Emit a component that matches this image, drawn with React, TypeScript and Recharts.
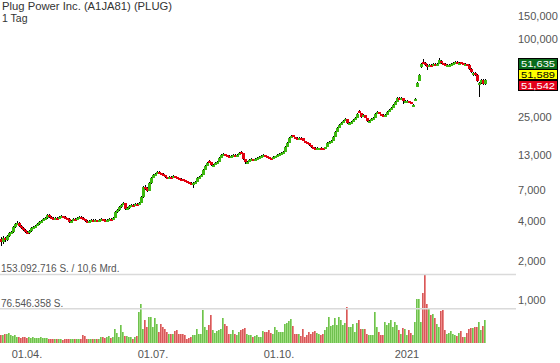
import { Bar, ComposedChart, ReferenceLine, XAxis, YAxis } from "recharts";

const TITLE = "Plug Power Inc. (A1JA81) (PLUG)";
const PERIOD = "1 Tag";

// Tageskerzen (EUR), 243 Handelstage
const OPEN = [
  2.95, 2.78, 2.99, 2.88, 3.09, 3.26, 3.32, 3.63, 3.82, 3.89,
  3.69, 3.56, 3.44, 3.32, 3.26, 3.38, 3.56, 3.66, 3.69, 3.82,
  3.96, 4.03, 4.18, 4.25, 4.48, 4.33, 4.27, 4.25, 4.28, 4.25,
  4.33, 4.4, 4.33, 4.25, 4.18, 3.96, 4.03, 4.2, 4.18, 4.25,
  4.33, 4.25, 4.18, 4.05, 4.03, 4.03, 4.12, 4.1, 4.1, 4.03,
  4.1, 4.18, 4.12, 4.1, 4.1, 4.2, 4.18, 4.25, 4.72, 4.89,
  5.16, 5.35, 5.54, 4.98, 5.07, 5.25, 5.37, 5.35, 5.46, 5.44,
  5.54, 6.16, 7.34, 7.21, 6.84, 7.88, 8.61, 9.07, 9.24, 9.57,
  9.4, 9.3, 9.07, 8.76, 8.61, 8.78, 8.76, 8.92, 8.76, 8.61,
  8.48, 8.46, 8.31, 8.16, 8.02, 7.9, 7.88, 7.88, 8.02, 8.61,
  8.76, 9.07, 9.91, 10.63, 11.7, 11.41, 10.82, 10.82, 11.21, 11.41,
  12.25, 12.92, 13.15, 12.92, 12.72, 12.69, 12.69, 12.95, 12.92, 12.92,
  13.6, 13.38, 12.04, 11.41, 11.41, 11.82, 12.04, 11.82, 12.04, 12.25,
  12.47, 12.69, 12.92, 12.69, 12.47, 12.27, 12.25, 12.47, 12.69, 12.92,
  13.15, 13.38, 13.62, 14.88, 15.97, 17.44, 18.3, 17.75, 17.46, 17.44,
  17.48, 17.44, 16.54, 16.25, 15.97, 15.41, 14.88, 14.64, 14.62, 14.6,
  14.64, 14.62, 14.36, 14.88, 15.97, 16.25, 16.54, 17.75, 19.39, 20.81,
  21.94, 22.73, 23.55, 24.4, 22.73, 22.73, 23.14, 23.97, 24.83, 28.1,
  27.12, 25.27, 26.18, 24.83, 23.55, 23.55, 24.4, 24.83, 26.65, 27.61,
  26.65, 26.22, 26.18, 26.18, 27.61, 28.6, 29.63, 31.24, 32.94, 35.4,
  35.35, 35.35, 33.52, 33.52, 33.52, 32.94, 30.69, 33.52, 42.93, 47.72,
  61.1, 66.74, 65.57, 63.3, 61.1, 63.3, 62.19, 64.42, 63.3, 64.42,
  67.93, 65.57, 64.42, 63.3, 63.3, 63.3, 64.42, 65.57, 66.74, 65.57,
  66.2, 65.57, 64.42, 64.42, 63.3, 58.98, 53.06, 54.96, 53.06, 45.26,
  46.07, 48.57, 45.26,
];
const HIGH = [
  3.02, 3.1, 3.06, 3.17, 3.34, 3.4, 3.72, 3.92, 4.02, 3.95,
  3.74, 3.6, 3.48, 3.38, 3.44, 3.62, 3.7, 3.76, 3.9, 4.04,
  4.12, 4.26, 4.34, 4.56, 4.52, 4.38, 4.33, 4.34, 4.33, 4.4,
  4.48, 4.44, 4.37, 4.28, 4.22, 4.1, 4.24, 4.26, 4.32, 4.4,
  4.37, 4.29, 4.21, 4.1, 4.09, 4.15, 4.17, 4.16, 4.13, 4.15,
  4.23, 4.21, 4.16, 4.15, 4.23, 4.25, 4.31, 4.8, 4.98, 5.26,
  5.45, 5.68, 5.58, 5.15, 5.32, 5.42, 5.42, 5.52, 5.52, 5.62,
  6.3, 7.52, 7.6, 7.3, 8.02, 8.75, 9.22, 9.4, 9.75, 9.7,
  9.48, 9.35, 9.12, 8.82, 8.85, 8.86, 9.02, 8.96, 8.8, 8.66,
  8.55, 8.5, 8.35, 8.2, 8.06, 7.96, 7.95, 8.1, 8.72, 8.86,
  9.18, 10.05, 10.8, 11.4, 11.85, 11.45, 10.95, 11.35, 11.55, 12.4,
  13.1, 13.4, 13.25, 13.0, 12.85, 12.85, 13.05, 13.05, 13.08, 13.55,
  13.75, 13.45, 12.1, 11.55, 11.95, 12.18, 12.1, 12.15, 12.38, 12.6,
  12.82, 13.05, 13.0, 12.75, 12.52, 12.35, 12.58, 12.8, 13.05, 13.28,
  13.52, 13.78, 15.05, 16.15, 17.65, 18.3, 18.4, 17.82, 17.62, 17.6,
  17.62, 17.5, 16.62, 16.32, 16.02, 15.48, 14.95, 14.75, 14.76, 14.74,
  14.76, 14.68, 15.0, 16.12, 16.4, 16.7, 17.92, 19.6, 21.05, 22.2,
  23.0, 23.85, 24.7, 24.5, 22.95, 23.35, 24.2, 25.1, 26.95, 28.5,
  27.25, 26.45, 26.3, 24.95, 23.8, 24.65, 25.1, 26.95, 27.95, 27.75,
  26.75, 26.45, 26.45, 27.9, 28.95, 29.95, 31.6, 33.35, 35.8, 35.9,
  35.85, 35.5, 33.95, 33.95, 33.7, 33.1, 31.8, 35.1, 46.6, 53.8,
  65.2, 70.4, 66.2, 64.0, 64.0, 63.9, 65.0, 65.0, 65.2, 71.6,
  68.5, 66.0, 65.0, 64.0, 64.0, 65.0, 66.3, 67.5, 67.4, 66.3,
  66.8, 66.0, 65.1, 64.9, 63.8, 59.5, 55.6, 55.5, 53.6, 47.0,
  49.5, 49.2, 49.6,
];
const LOW = [
  2.58, 2.7, 2.8, 2.84, 3.03, 3.2, 3.28, 3.58, 3.76, 3.62,
  3.48, 3.38, 3.25, 3.18, 3.22, 3.34, 3.52, 3.6, 3.66, 3.78,
  3.92, 4.0, 4.12, 4.2, 4.26, 4.18, 4.18, 4.2, 4.19, 4.22,
  4.3, 4.27, 4.18, 4.1, 3.88, 3.92, 4.0, 4.12, 4.14, 4.22,
  4.19, 4.12, 3.97, 3.97, 3.97, 4.0, 4.04, 4.05, 3.98, 4.0,
  4.06, 4.05, 4.05, 4.04, 4.07, 4.12, 4.14, 4.22, 4.66, 4.85,
  5.1, 5.3, 4.9, 4.92, 5.02, 5.2, 5.28, 5.3, 5.38, 5.4,
  5.5, 6.1, 6.95, 6.7, 6.8, 7.8, 8.55, 9.0, 9.18, 9.3,
  9.15, 8.98, 8.66, 8.52, 8.56, 8.66, 8.7, 8.68, 8.52, 8.38,
  8.36, 8.22, 8.08, 7.92, 7.78, 7.8, 7.25, 7.8, 7.98, 8.55,
  8.7, 9.0, 9.85, 10.55, 11.3, 10.6, 10.6, 10.75, 11.15, 11.35,
  12.15, 12.85, 12.8, 12.55, 12.55, 12.55, 12.6, 12.8, 12.8, 12.88,
  13.25, 11.9, 11.05, 11.25, 11.35, 11.75, 11.7, 11.75, 11.98, 12.2,
  12.4, 12.62, 12.6, 12.38, 12.15, 12.15, 12.2, 12.42, 12.62, 12.86,
  13.1, 13.3, 13.55, 14.8, 15.9, 17.35, 17.6, 17.3, 17.3, 17.28,
  17.3, 16.4, 16.1, 15.8, 15.25, 14.72, 14.48, 14.48, 14.5, 14.48,
  14.48, 14.2, 14.3, 14.8, 15.9, 16.18, 16.48, 17.7, 19.3, 20.7,
  21.85, 22.65, 23.45, 22.5, 22.45, 22.65, 23.05, 23.9, 24.75, 26.9,
  25.0, 25.1, 24.6, 23.25, 23.2, 23.45, 24.3, 24.75, 26.55, 26.4,
  25.95, 25.95, 25.95, 26.1, 27.5, 28.5, 29.55, 31.15, 32.85, 34.9,
  34.9, 31.6, 33.1, 33.05, 32.6, 31.9, 30.2, 33.3, 42.5, 47.3,
  60.3, 64.9, 62.6, 57.9, 60.5, 61.5, 61.7, 62.6, 62.8, 64.0,
  64.9, 63.7, 62.6, 62.6, 62.5, 62.8, 64.0, 65.0, 65.0, 64.9,
  64.9, 63.8, 63.7, 62.6, 58.3, 55.2, 52.3, 52.4, 47.0, 35.98,
  45.5, 44.5, 44.8,
];
const CLOSE = [
  2.78, 2.99, 2.88, 3.09, 3.26, 3.32, 3.63, 3.82, 3.89, 3.69,
  3.56, 3.44, 3.32, 3.26, 3.38, 3.56, 3.63, 3.69, 3.82, 3.96,
  4.03, 4.18, 4.25, 4.48, 4.33, 4.25, 4.25, 4.27, 4.25, 4.33,
  4.4, 4.33, 4.25, 4.18, 3.96, 4.03, 4.18, 4.18, 4.25, 4.33,
  4.25, 4.18, 4.03, 4.03, 4.03, 4.1, 4.1, 4.1, 4.03, 4.1,
  4.18, 4.1, 4.1, 4.1, 4.18, 4.18, 4.25, 4.72, 4.89, 5.16,
  5.35, 5.54, 4.98, 5.07, 5.25, 5.35, 5.35, 5.44, 5.44, 5.54,
  6.16, 7.34, 7.21, 6.84, 7.88, 8.61, 9.07, 9.24, 9.57, 9.4,
  9.24, 9.07, 8.76, 8.61, 8.76, 8.76, 8.92, 8.76, 8.61, 8.46,
  8.46, 8.31, 8.16, 8.02, 7.88, 7.88, 7.88, 8.02, 8.61, 8.76,
  9.07, 9.91, 10.63, 11.21, 11.41, 10.82, 10.82, 11.21, 11.41, 12.25,
  12.92, 13.15, 12.92, 12.69, 12.69, 12.69, 12.92, 12.92, 12.92, 13.38,
  13.38, 12.04, 11.41, 11.41, 11.82, 12.04, 11.82, 12.04, 12.25, 12.47,
  12.69, 12.92, 12.69, 12.47, 12.25, 12.25, 12.47, 12.69, 12.92, 13.15,
  13.38, 13.62, 14.88, 15.97, 17.44, 18.07, 17.75, 17.44, 17.44, 17.44,
  17.44, 16.54, 16.25, 15.97, 15.41, 14.88, 14.62, 14.62, 14.62, 14.62,
  14.62, 14.36, 14.88, 15.97, 16.25, 16.54, 17.75, 19.39, 20.81, 21.94,
  22.73, 23.55, 24.4, 22.73, 22.73, 23.14, 23.97, 24.83, 26.65, 27.12,
  25.27, 26.18, 24.83, 23.55, 23.55, 24.4, 24.83, 26.65, 27.61, 26.65,
  26.18, 26.18, 26.18, 27.61, 28.6, 29.63, 31.24, 32.94, 35.35, 35.35,
  35.35, 33.52, 33.52, 33.52, 32.94, 32.36, 31.24, 34.73, 46.07, 53.06,
  64.42, 65.57, 63.3, 61.1, 63.3, 62.19, 64.42, 63.3, 64.42, 69.14,
  65.57, 64.42, 63.3, 63.3, 63.3, 64.42, 65.57, 66.74, 65.57, 65.57,
  65.57, 64.42, 64.42, 63.3, 58.98, 55.94, 54.96, 53.06, 47.72, 46.07,
  48.57, 45.26, 48.57,
];
// Umsatz in Mio. Stück
const VOLUME = [
  18, 17, 20, 19, 22, 17, 15, 17, 14, 13,
  12, 14, 13, 12, 13, 12, 14, 12, 11, 12,
  13, 12, 11, 12, 9, 10, 8, 9, 10, 8,
  9, 7, 9, 10, 8, 9, 8, 10, 9, 8,
  10, 17, 16, 9, 8, 9, 10, 8, 9, 10,
  13, 14, 12, 13, 15, 12, 14, 32, 22, 13,
  40, 25, 15, 15, 13, 13, 10, 13, 15, 69,
  87, 32, 51, 36, 57, 57, 36, 56, 43, 25,
  43, 35, 32, 25, 20, 19, 20, 26, 28, 20,
  21, 21, 17, 10, 12, 13, 17, 17, 32, 20,
  19, 73, 36, 30, 40, 63, 28, 22, 26, 30,
  32, 55, 43, 37, 20, 20, 28, 19, 17, 25,
  28, 32, 34, 21, 18, 17, 13, 15, 17, 14,
  13, 27, 25, 24, 30, 22, 19, 36, 30, 25,
  25, 24, 42, 44, 50, 53, 37, 19, 21, 20,
  15, 32, 14, 18, 24, 21, 25, 27, 22, 19,
  17, 19, 28, 35, 57, 37, 40, 56, 40, 58,
  52, 40, 45, 80, 35, 36, 43, 25, 45, 51,
  32, 31, 32, 20, 17, 17, 17, 69, 36, 25,
  17, 17, 48, 40, 44, 52, 36, 48, 40, 30,
  19, 34, 32, 17, 28, 22, 17, 46, 98, 99,
  46, 111, 153.092716, 88, 79, 62, 64, 55, 43, 36,
  72, 73, 28, 19, 22, 27, 21, 18, 15, 22,
  27, 13, 13, 22, 32, 34, 34, 35, 36, 47,
  30, 37, 51,
];

const TICK_INDEX = [13, 76, 139, 203];
const TICK_LABEL = ["01.04.", "01.07.", "01.10.", "2021"];
const PRICE_TICKS = [1, 2, 4, 7, 13, 25, 100, 150];

const VOL_MAX = 153092716;
const VOL_HALF = 76546358;
const TURNOVER = "10,6 Mrd.";
const QUOTE_VALUES = [51.635, 51.589, 51.542];

const FONT = "'Liberation Sans', Arial, sans-serif";
const GREEN = "#3cb80f";
const RED = "#e2000f";
const QUOTE_STYLE = [
  { bg: "#0a6b1a", fg: "#ffffff", y: 58.5, h: 11, base: 67.4 },
  { bg: "#ffff00", fg: "#000000", y: 69.5, h: 10, base: 78.3 },
  { bg: "#e2001a", fg: "#ffffff", y: 80.5, h: 10, base: 89.2 },
];

const data = CLOSE.map((close, i) => ({
  i,
  open: OPEN[i],
  high: HIGH[i],
  low: LOW[i],
  close,
  range: [LOW[i], HIGH[i]],
  volume: VOLUME[i],
}));

const dots = (n: number) => String(n).replace(/\B(?=(\d{3})+(?!\d))/g, ".");
const price = (v: number) => v.toFixed(3).replace(".", ",");

const Candle = (props: any) => {
  const { x, y, width, height, payload } = props;
  if (!payload) return null;
  const top = Math.min(y, y + height);
  const bot = Math.max(y, y + height);
  const lh = Math.log(payload.high);
  const ll = Math.log(payload.low);
  const span = lh - ll || 1;
  const at = (v: number) => top + ((lh - Math.log(v)) / span) * (bot - top);
  const cx = Math.round(x + width / 2);
  const up = payload.close >= payload.open;
  const bTop = Math.round(at(Math.max(payload.open, payload.close)));
  let bBot = Math.round(at(Math.min(payload.open, payload.close)));
  if (bBot - bTop < 2) bBot = bTop + 2;
  const wTop = Math.round(top);
  const wBot = Math.max(wTop + 1, Math.round(bot));
  return (
    <g shapeRendering="crispEdges">
      <rect x={cx} y={wTop} width={1} height={wBot - wTop} fill="#000" />
      <rect x={cx - 1} y={bTop} width={3} height={bBot - bTop} fill={up ? GREEN : RED} />
    </g>
  );
};

const VolBar = (props: any) => {
  const { x, y, width, height, payload } = props;
  if (!payload) return null;
  const up = payload.close >= payload.open;
  const cx = Math.round(x + width / 2);
  const t = Math.round(y);
  const h = Math.max(1, Math.round(y + height) - t);
  return (
    <g shapeRendering="crispEdges">
      <rect x={cx - 1} y={t} width={2} height={h} fill={up ? "#9edd80" : "#ef8c8c"} />
      <rect x={cx - 1} y={t} width={1} height={h} fill={up ? "#6fc04e" : "#d45a5a"} />
    </g>
  );
};

const GridLine = (props: any) => (
  <line x1={0} x2={516} y1={props.y1} y2={props.y1} stroke="#dadada" strokeWidth={1.5} />
);

const App = () => {
  return (
    <div style={{ position: "absolute", left: 0, top: 0, width: 560, height: 363, fontFamily: FONT }}>
      <ComposedChart width={560} height={363} data={data} margin={{ top: 0, right: 0, bottom: 0, left: 0 }}>
        <XAxis
          dataKey="i"
          ticks={TICK_INDEX}
          interval={0}
          tickFormatter={(v) => TICK_LABEL[TICK_INDEX.indexOf(v)]}
          padding={{ left: 0, right: 24 }}
          height={20}
          axisLine={false}
          tickLine={false}
          tickSize={5}
          tickMargin={2}
          tick={{ fill: "#555", fontSize: 11, fontFamily: FONT }}
        />
        <XAxis xAxisId="vol" dataKey="i" hide padding={{ left: 0, right: 24 }} />
        <YAxis
          yAxisId="price"
          orientation="right"
          scale="log"
          domain={[0.4682, 199]}
          allowDataOverflow
          ticks={PRICE_TICKS}
          interval={0}
          tickFormatter={price}
          width={50}
          axisLine={false}
          tickLine={false}
          tickSize={6}
          tickMargin={2}
          tick={{ fill: "#555", fontSize: 11, fontFamily: FONT }}
        />
        <YAxis yAxisId="vol" hide domain={[0, 766]} allowDataOverflow />
        <ReferenceLine yAxisId="vol" y={VOL_MAX / 1e6} shape={GridLine} ifOverflow="visible" />
        <ReferenceLine yAxisId="vol" y={VOL_HALF / 1e6} shape={GridLine} ifOverflow="visible" />
        <Bar xAxisId="vol" yAxisId="vol" dataKey="volume" shape={VolBar} isAnimationActive={false} />
        <Bar yAxisId="price" dataKey="range" shape={Candle} isAnimationActive={false} />
      </ComposedChart>
      <svg
        width={560}
        height={363}
        style={{ position: "absolute", left: 0, top: 0, pointerEvents: "none" }}
        fontFamily={FONT}
      >
        <text x={2} y={10} fontSize={10.5} fill="#333" textLength={170} lengthAdjust="spacingAndGlyphs">
          {TITLE}
        </text>
        <text x={2} y={22} fontSize={10.5} fill="#333">{PERIOD}</text>
        <text x={1} y={272} fontSize={10} fill="#555">{`${dots(VOL_MAX)} S. / ${TURNOVER}`}</text>
        <text x={1} y={307} fontSize={10} fill="#555">{`${dots(VOL_HALF)} S.`}</text>
        {QUOTE_VALUES.map((v, k) => (
          <g key={k}>
            <rect
              x={518.5}
              y={QUOTE_STYLE[k].y}
              width={39}
              height={QUOTE_STYLE[k].h}
              fill={QUOTE_STYLE[k].bg}
              stroke="#000"
            />
            <text
              x={521}
              y={QUOTE_STYLE[k].base}
              fontSize={9.4}
              fill={QUOTE_STYLE[k].fg}
              textLength={34}
              lengthAdjust="spacingAndGlyphs"
            >
              {price(v)}
            </text>
          </g>
        ))}
      </svg>
    </div>
  );
};

export default App;
